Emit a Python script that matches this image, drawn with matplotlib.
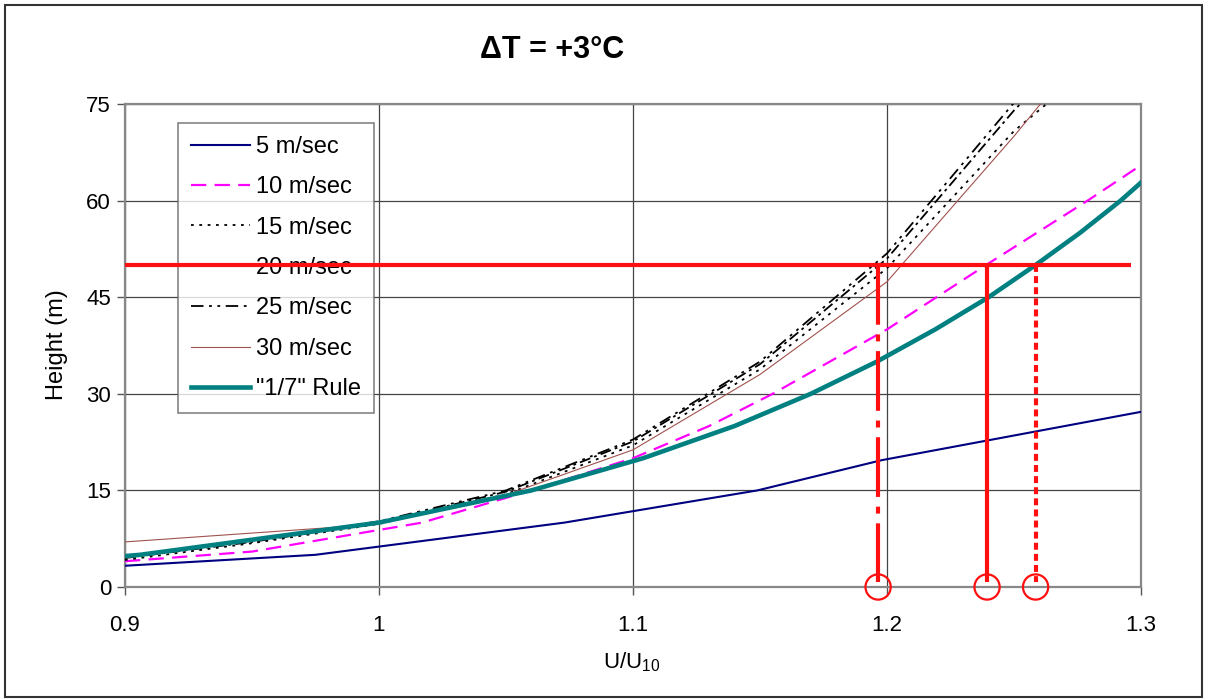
import matplotlib
matplotlib.use("Agg")
import matplotlib.pyplot as plt
from matplotlib.patches import Rectangle

plt.rcParams['font.family'] = ['Liberation Sans', 'DejaVu Sans']
plt.rcParams['mathtext.default'] = 'regular'
plt.rcParams['lines.scale_dashes'] = False

# --- data ---
u_5 = [0.9, 0.975, 1.073, 1.149, 1.198, 1.3]
h_5 = [3.3, 5.0, 10.0, 15.0, 19.7, 27.2]

u_10 = [0.9, 0.95, 1.017, 1.06, 1.1, 1.13, 1.155, 1.2, 1.239, 1.279, 1.3]
h_10 = [4.0, 5.5, 10.0, 15.0, 20.0, 25.0, 30.0, 40.0, 50.0, 60.0, 65.5]

u_black = [0.9, 0.95, 1.0, 1.05, 1.1, 1.15, 1.2, 1.25, 1.275]
h_15 = [4.2, 6.8, 9.8, 14.4, 22.0, 33.8, 49.5, 70.8, 79.0]
h_20 = [4.5, 7.0, 10.0, 14.8, 22.6, 34.6, 51.0, 74.0, 84.0]
h_25 = [4.6, 7.2, 10.2, 15.0, 22.9, 35.0, 51.8, 75.2, 86.0]

u_30 = [0.9, 0.98, 1.0, 1.05, 1.1, 1.15, 1.2, 1.25, 1.275]
h_30 = [7.0, 9.2, 10.0, 14.3, 21.3, 33.0, 47.4, 70.0, 82.0]

u_rule = [0.9, 0.906, 1.0, 1.06, 1.104, 1.14, 1.17, 1.196, 1.219, 1.24, 1.2585, 1.276, 1.292, 1.3]
h_rule = [4.8, 5.0, 10.0, 15.0, 20.0, 25.0, 30.0, 35.0, 40.0, 45.0, 50.0, 55.0, 60.0, 62.8]

ref_height = 50
read_u = [1.1965, 1.2394, 1.2585]

x_ticks = [0.9, 1.0, 1.1, 1.2, 1.3]
x_labels = ['0.9', '1', '1.1', '1.2', '1.3']
y_ticks = [0, 15, 30, 45, 60, 75]

fig = plt.figure(figsize=(12.09, 7.0), dpi=100)
ax = fig.add_axes([125 / 1209, 1 - 587 / 700, 1016 / 1209, 483 / 700])

ax.plot(u_5, h_5, color='#000080', lw=1.5, label='5 m/sec', zorder=3)
ax.plot(u_10, h_10, color='#FF00FF', lw=1.6, dashes=(11, 6), label='10 m/sec', zorder=3)
ax.plot(u_black, h_15, color='black', lw=1.3, dashes=(2, 4), label='15 m/sec', zorder=3)
ax.plot(u_black, h_20, color='black', lw=1.3, dashes=(8, 3, 2, 3), label='20 m/sec', zorder=3)
ax.plot(u_black, h_25, color='black', lw=1.3, dashes=(9, 4, 2, 4, 2, 4), label='25 m/sec', zorder=3)
ax.plot(u_30, h_30, color='#A0524D', lw=0.8, label='30 m/sec', zorder=3)
ax.plot(u_rule, h_rule, color='#008080', lw=3.3, label='"1/7" Rule', zorder=3)

# red reading lines
ax.plot([0.9, 1.296], [ref_height, ref_height], color='#FF1010', lw=3, zorder=10,
        solid_capstyle='butt')
styles = [dict(dashes=(43, 7, 5, 7)), dict(), dict(dashes=(5, 3))]
for u, st in zip(read_u, styles):
    ax.plot([u, u], [ref_height, 0.8], color='#FF1010', lw=3, zorder=10,
            solid_capstyle='butt', **st)
ax.scatter(read_u, [0] * len(read_u), s=330, marker='o', facecolors='none',
           edgecolors='#FF1010', linewidths=1.6, zorder=11, clip_on=False)

ax.set_xlim(0.9, 1.3)
ax.set_ylim(0, 75)
ax.set_xticks(x_ticks)
ax.set_xticklabels(x_labels)
ax.set_yticks(y_ticks)
ax.grid(True, color='#444444', lw=0.9)
ax.set_axisbelow(True)
for sp in ax.spines.values():
    sp.set_color('#888888')
    sp.set_linewidth(1.6)
ax.tick_params(axis='x', direction='out', length=6, width=1, color='#555555',
               labelsize=16, pad=14)
ax.tick_params(axis='y', direction='out', length=6, width=1, color='#555555',
               labelsize=16, pad=4)

leg = ax.legend(loc='upper left', bbox_to_anchor=(0.052, 0.961), fontsize=17,
                frameon=True, fancybox=False, handlelength=2.5,
                handletextpad=0.25, labelspacing=0.78, borderpad=0.55,
                borderaxespad=0)
leg.get_frame().set_edgecolor('#666666')
leg.get_frame().set_linewidth(1.2)
leg.set_zorder(5)

fig.text(552 / 1209, 1 - 50 / 700, 'ΔT = +3°C', fontsize=22, fontweight='bold',
         ha='center', va='center')
fig.text(57 / 1209, 1 - 345 / 700, 'Height (m)', fontsize=17, rotation=90,
         ha='center', va='center')
fig.text(632 / 1209, 1 - 662 / 700, 'U/U$_{10}$', fontsize=16,
         ha='center', va='center')

fig.patches.append(Rectangle((5 / 1209, 3 / 700), 1197 / 1209, 692 / 700,
                             transform=fig.transFigure, fill=False,
                             edgecolor='#333333', lw=1.5))

fig.savefig('out.png', dpi=100)
